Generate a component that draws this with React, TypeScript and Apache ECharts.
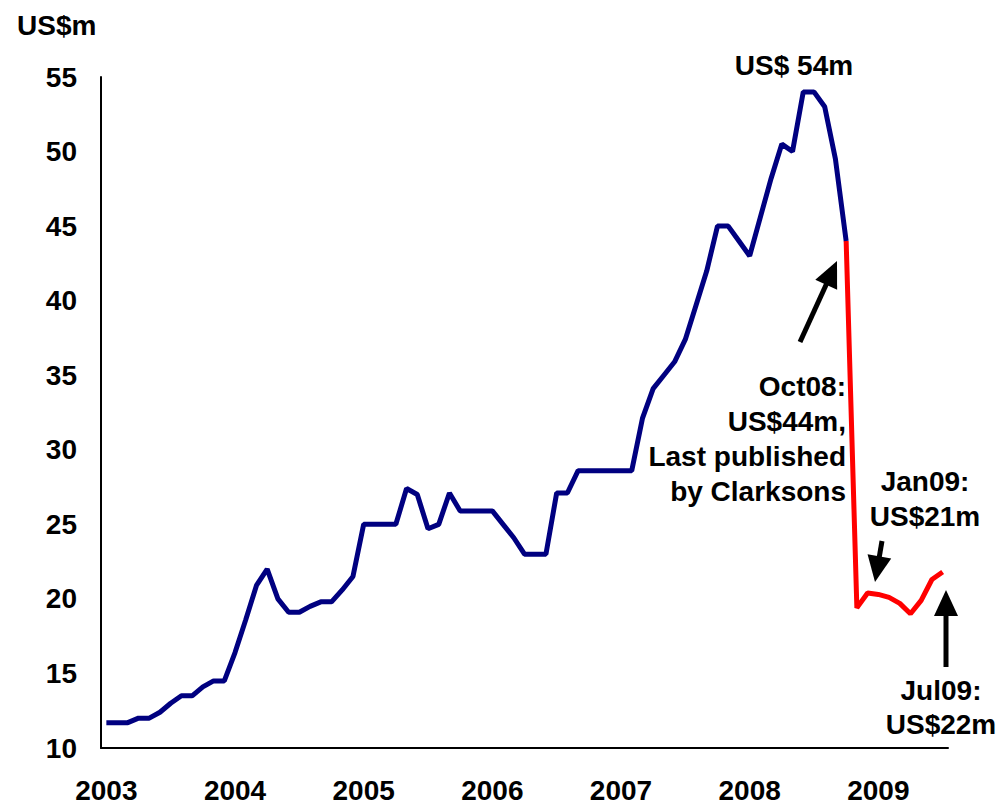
import React, { useEffect, useRef } from "react";
import * as echarts from "echarts";

const years = ["2003", "2004", "2005", "2006", "2007", "2008", "2009"];
const monthsInLast = 7; // Jan..Jul 2009

// Monthly newbuild price, Jan 2003 – Oct 2008 (Clarksons)
const publishedPrices = [
  11.7, 11.7, 11.7, 12.0, 12.0, 12.4, 13.0, 13.5, 13.5, 14.1, 14.5, 14.5,
  16.4, 18.6, 20.9, 22.0, 20.0, 19.1, 19.1, 19.5, 19.8, 19.8, 20.6, 21.5,
  25.0, 25.0, 25.0, 25.0, 27.4, 27.0, 24.7, 25.0, 27.1, 25.9, 25.9, 25.9,
  25.9, 25.0, 24.1, 23.0, 23.0, 23.0, 27.1, 27.1, 28.6, 28.6, 28.6, 28.6,
  28.6, 28.6, 32.1, 34.1, 35.0, 35.9, 37.4, 39.7, 42.0, 45.0, 45.0, 44.0,
  43.0, 45.6, 48.2, 50.5, 50.0, 54.0, 54.0, 53.0, 49.5, 44.0,
];

// Oct 2008 – Jul 2009 estimates
const estimatedPrices = [44.0, 19.4, 20.4, 20.3, 20.1, 19.7, 19.0, 19.9, 21.3, 21.8];

const yTicks = { min: 10, max: 55, interval: 5 };

const FONT = '"Liberation Sans", Arial, Helvetica, sans-serif';

function buildCategories() {
  const cats: string[] = [];
  years.forEach((y, yi) => {
    const n = yi === years.length - 1 ? monthsInLast : 12;
    for (let m = 0; m < n; m++) cats.push(y + "-" + (m + 1));
  });
  return cats;
}

function arrow(x1: number, y1: number, x2: number, y2: number) {
  const dx = x2 - x1;
  const dy = y2 - y1;
  const len = Math.sqrt(dx * dx + dy * dy);
  const ux = dx / len;
  const uy = dy / len;
  const headLen = 26;
  const headHalf = 12;
  const bx = x2 - ux * headLen;
  const by = y2 - uy * headLen;
  const px = -uy;
  const py = ux;
  return [
    {
      type: "line",
      shape: { x1, y1, x2: bx + ux * 2, y2: by + uy * 2 },
      style: { stroke: "#000", lineWidth: 5 },
    },
    {
      type: "polygon",
      shape: {
        points: [
          [x2, y2],
          [bx + px * headHalf, by + py * headHalf],
          [bx - px * headHalf, by - py * headHalf],
        ],
      },
      style: { fill: "#000" },
    },
  ];
}

export default function App() {
  const ref = useRef<HTMLDivElement>(null);

  useEffect(() => {
    if (!ref.current) return;
    const chart = echarts.init(ref.current, null, { renderer: "svg" });
    const categories = buildCategories();
    const blue = categories.map((_, i) => (i < publishedPrices.length ? publishedPrices[i] : null));
    const startRed = publishedPrices.length - 1;
    const red = categories.map((_, i) =>
      i >= startRed && i - startRed < estimatedPrices.length ? estimatedPrices[i - startRed] : null
    );

    const textStyle = (extra: any) => ({
      fontFamily: FONT,
      fontWeight: "bold",
      fontSize: 28,
      fill: "#000",
      ...extra,
    });

    chart.setOption({
      animation: false,
      backgroundColor: "#fff",
      grid: { left: 101, right: 49, top: 77, bottom: 56, containLabel: false },
      xAxis: {
        type: "category",
        data: categories,
        boundaryGap: true,
        axisLine: { show: true, lineStyle: { color: "#000", width: 2 } },
        axisTick: { show: false },
        axisLabel: {
          interval: (index: number) => index % 12 === 0,
          formatter: (v: string) => v.split("-")[0],
          color: "#000",
          fontFamily: FONT,
          fontWeight: "bold",
          fontSize: 28,
          margin: 28,
        },
        splitLine: { show: false },
      },
      yAxis: {
        type: "value",
        min: yTicks.min,
        max: yTicks.max,
        interval: yTicks.interval,
        axisLine: { show: true, lineStyle: { color: "#000", width: 2 } },
        axisTick: { show: false },
        splitLine: { show: false },
        axisLabel: {
          color: "#000",
          fontFamily: FONT,
          fontWeight: "bold",
          fontSize: 28,
          margin: 24,
        },
      },
      series: [
        {
          type: "line",
          data: blue,
          showSymbol: false,
          symbol: "none",
          lineStyle: { color: "#000080", width: 5 },
          z: 3,
        },
        {
          type: "line",
          data: red,
          showSymbol: false,
          symbol: "none",
          connectNulls: false,
          lineStyle: { color: "#FF0000", width: 5 },
          z: 2,
        },
      ],
      graphic: [
        {
          type: "text",
          left: 17,
          top: 11,
          style: textStyle({ text: "US$m" }),
        },
        {
          type: "text",
          x: 794,
          y: 65,
          style: textStyle({ text: "US$ 54m", align: "center", verticalAlign: "middle" }),
        },
        {
          type: "text",
          x: 846,
          y: 369,
          style: textStyle({
            text: "Oct08:\nUS$44m,\nLast published\nby Clarksons",
            align: "right",
            verticalAlign: "top",
            lineHeight: 35,
          }),
        },
        {
          type: "text",
          x: 925,
          y: 464,
          style: textStyle({
            text: "Jan09:\nUS$21m",
            align: "center",
            verticalAlign: "top",
            lineHeight: 35,
          }),
        },
        {
          type: "text",
          x: 941,
          y: 673,
          style: textStyle({
            text: "Jul09:\nUS$22m",
            align: "center",
            verticalAlign: "top",
            lineHeight: 34,
          }),
        },
        ...arrow(800, 342, 837, 261),
        ...arrow(882, 541, 875, 582),
        ...arrow(946, 667, 946, 590),
      ],
    });

    return () => {
      chart.dispose();
    };
  }, []);

  return (
    <div
      ref={ref}
      style={{ position: "fixed", left: 0, top: 0, width: 997, height: 804, background: "#fff" }}
    />
  );
}
